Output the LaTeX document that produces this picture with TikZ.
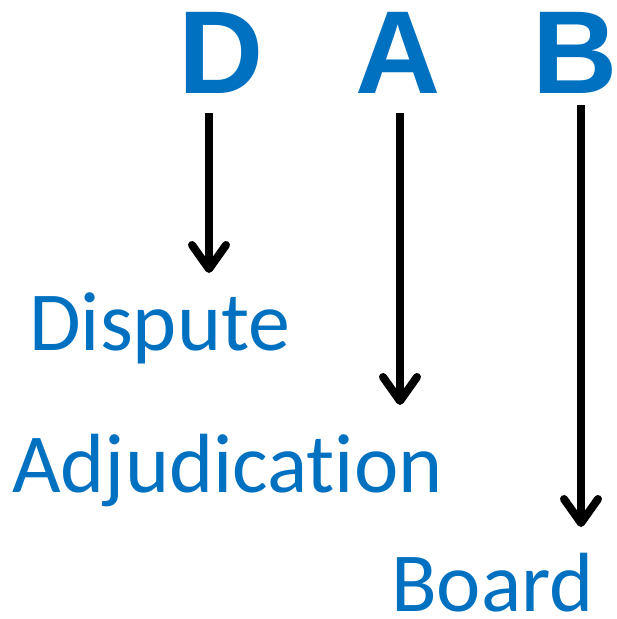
\documentclass[tikz,border=0pt]{standalone}
\usepackage{fontspec}
\setmainfont{Carlito}[RawFeature=-liga]
\newfontfamily\lettfont{Liberation Sans}
\usetikzlibrary{arrows.meta}
\definecolor{dabblue}{HTML}{0070C0}
\tikzset{
  initial/.style={font=\lettfont\bfseries\fontsize{118}{118}\selectfont, text=dabblue, inner sep=0pt, anchor=base},
  word/.style={font=\fontsize{84}{84}\selectfont, text=dabblue, inner sep=0pt, anchor=base west},
  pointer/.style={line width=8pt, black, -{Straight Barb[round, length=24pt, width=34pt]}}
}
\begin{document}
\begin{tikzpicture}[x=1pt, y=-1pt]
  \useasboundingbox (0,0) rectangle (617,619);
  % initials
  \node[initial] (D) at (221,93) {D};
  \node[initial] (A) at (398,93) {A};
  \node[initial] (B) at (575,93) {B};
  % expanded words
  \node[word] (dispute) at (29,350) {Dispute};
  \node[word] (adj) at (12,492) {Adjudication};
  \node[word, text depth=0pt] (board) at (391,611) {Board};
  % arrow ends
  \coordinate (d1) at (209,113);
  \coordinate (d2) at (209,273);
  \coordinate (a1) at (400,113);
  \coordinate (a2) at (400,405);
  \coordinate (b1) at (581,105);
  \coordinate (b2) at (581,527);
  \draw[pointer] (d1) -- (d2);
  \draw[pointer] (a1) -- (a2);
  \draw[pointer] (b1) -- (b2);
\end{tikzpicture}
\end{document}
